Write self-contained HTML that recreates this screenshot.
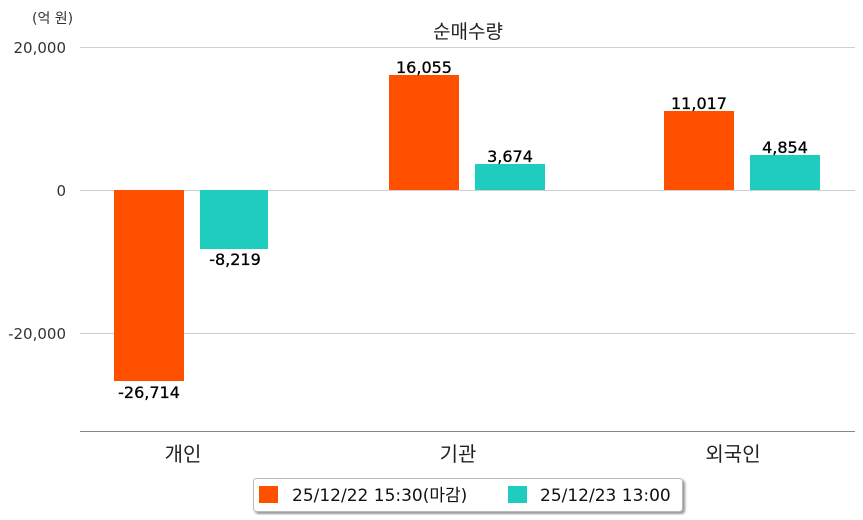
<!DOCTYPE html>
<html><head><meta charset="utf-8"><style>body{margin:0;background:#fff}svg{display:block;font-family:"DejaVu Sans","Noto Sans CJK KR",sans-serif}</style></head><body>
<svg width="863" height="520" viewBox="0 0 863 520">
<defs><filter id="sh"><feDropShadow dx="2" dy="2" stdDeviation="1.2" flood-color="#777" flood-opacity="0.8"/></filter></defs>
<rect width="863" height="520" fill="#fff"/>
<g stroke="#cfcfcf" stroke-width="1">
<line x1="80" y1="47.5" x2="855" y2="47.5"/><line x1="80" y1="190.5" x2="855" y2="190.5"/><line x1="80" y1="333.5" x2="855" y2="333.5"/></g>
<line x1="80" y1="431.5" x2="855" y2="431.5" stroke="#888"/>
<g font-size="15" fill="#333" text-anchor="end"><text x="66" y="53">20,000</text><text x="66" y="196">0</text><text x="66" y="339">-20,000</text></g>
<text x="32" y="23" font-size="14" fill="#333">(억 원)</text>
<text x="468" y="38" font-size="19" fill="#222" text-anchor="middle">순매수량</text>
<g fill="#ff5000"><rect x="114" y="190" width="70" height="191"/><rect x="389" y="75" width="70" height="115"/><rect x="664" y="111" width="70" height="79"/></g>
<g fill="#1ecdbe"><rect x="200" y="190" width="68" height="59"/><rect x="475" y="164" width="70" height="26"/><rect x="750" y="155" width="70" height="35"/></g>
<g font-size="16" fill="#000" text-anchor="middle" stroke="#000" stroke-width="0.3"><text x="149" y="398">-26,714</text><text x="235" y="265">-8,219</text><text x="424" y="73">16,055</text><text x="510" y="162">3,674</text><text x="699" y="109">11,017</text><text x="785" y="153">4,854</text></g>
<g font-size="20" fill="#222" text-anchor="middle"><text x="183" y="461">개인</text><text x="458" y="461">기관</text><text x="733" y="461">외국인</text></g>
<rect x="253.5" y="478.5" width="429" height="33" rx="3" fill="#fff" stroke="#bbb" filter="url(#sh)"/>
<rect x="259" y="486" width="19" height="17" fill="#ff5000"/><rect x="508" y="486" width="19" height="17" fill="#1ecdbe"/>
<g font-size="17" fill="#111"><text x="292" y="501">25/12/22 15:30(마감)</text><text x="540" y="501">25/12/23 13:00</text></g>
</svg>
</body></html>
